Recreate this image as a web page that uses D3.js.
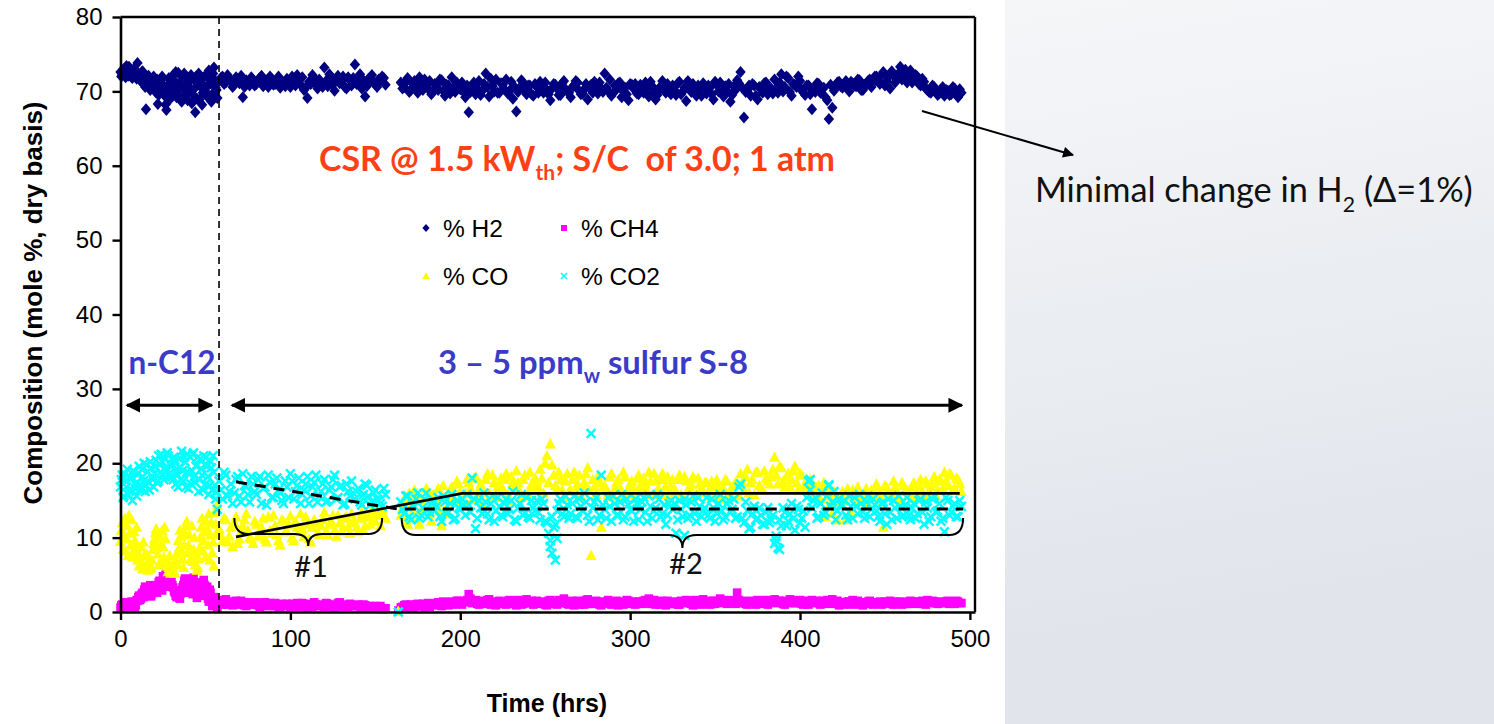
<!DOCTYPE html>
<html><head><meta charset="utf-8">
<script src="https://cdn.jsdelivr.net/npm/d3@7"></script>
<style>
html,body{margin:0;padding:0;background:#fff;}
svg{display:block;}
</style></head><body>
<svg id="c" width="1494" height="724"></svg>
<script>
// ---------------- DATA ----------------
// logged samples, set 1
const hours = [...d3.range(0, 58, 1), ...d3.range(58, 158, 2), 163.5, ...d3.range(165, 497, 2)];
// logged samples, set 2 (interleaved readings)
const hoursB = [...d3.range(0.5, 57.5, 1), ...d3.range(59, 157, 2), ...d3.range(166, 496, 2)];

const h2 = [
72.6,72.2,73.0,71.9,72.8,73.3,72.4,71.8,73.0,72.5,
73.8,72.3,71.6,72.7,71.9,67.6,71.9,71.3,70.4,71.7,
71.0,69.8,68.3,70.6,71.5,70.2,69.4,67.5,70.9,68.9,
71.3,72.2,70.6,69.2,72.5,71.0,68.6,70.4,72.0,69.6,
71.2,70.1,68.4,71.7,67.2,69.0,72.4,70.7,68.2,71.9,
70.0,69.3,72.8,71.1,69.6,73.2,70.5,69.1,
71.4,72.0,71.2,71.7,70.6,71.9,71.1,69.2,71.5,70.8,
71.6,71.0,71.8,70.7,71.3,72.0,70.9,71.4,70.5,71.2,
71.7,70.6,71.3,72.2,70.9,70.2,69.1,71.0,71.8,70.4,
71.2,73.2,70.7,71.6,70.1,72.1,71.4,70.6,71.9,70.8,
73.6,71.2,70.4,69.3,71.7,72.2,71.0,71.6,72.0,70.9,
null,
71.2,70.6,71.8,70.2,71.4,69.8,70.9,71.6,70.4,69.6,
71.0,70.2,71.5,69.4,70.8,71.9,69.9,70.6,71.2,69.2,
67.2,70.8,69.6,71.4,70.1,72.4,69.3,70.7,71.6,69.8,
70.9,71.6,70.1,69.0,67.3,70.5,71.2,69.6,70.8,69.4,
70.6,71.3,69.8,70.2,68.8,71.0,70.4,69.5,71.4,70.0,
69.2,70.8,71.2,69.6,70.3,68.9,70.9,71.3,69.7,70.4,
72.4,70.1,69.4,70.8,71.1,69.2,70.5,68.8,70.9,71.0,
69.6,70.4,71.2,69.3,70.7,68.9,70.2,71.4,69.8,70.1,
70.8,69.5,71.3,70.0,68.7,70.6,71.0,69.4,70.3,71.1,
69.7,70.5,68.9,70.9,71.2,69.3,70.1,68.6,70.7,71.5,
72.6,66.5,70.2,69.4,70.8,68.9,70.3,71.1,69.6,70.4,
71.6,69.8,72.3,70.6,71.8,69.4,70.9,72.0,70.2,69.5,
70.8,67.6,69.9,71.0,70.3,69.2,66.3,67.8,70.6,71.3,
70.5,71.4,70.0,71.1,70.7,71.5,70.2,70.9,71.6,71.2,
72.0,71.0,72.6,71.4,70.4,72.2,71.6,73.3,72.4,71.2,
72.8,71.6,72.0,70.8,71.3,70.2,69.8,70.6,69.5,70.3,
69.4,70.1,69.6,70.4,69.2,69.8
];
const h2B = [
72.0,72.8,72.3,73.4,72.1,72.7,71.9,72.9,72.2,71.7,
72.4,71.5,72.6,71.0,70.6,71.8,72.1,70.2,71.5,72.0,
70.4,71.6,69.5,71.2,72.0,70.6,68.2,70.0,71.8,70.3,
69.8,71.5,72.6,70.2,71.0,69.2,71.9,72.4,70.8,68.8,
70.6,72.2,69.6,70.4,72.0,71.4,68.9,71.2,69.8,70.6,
72.2,70.8,71.6,68.6,72.4,71.5,70.2,
71.8,71.0,72.2,71.4,70.9,71.5,72.1,70.6,71.3,71.9,
70.8,71.5,72.1,71.2,70.6,71.7,71.0,72.0,71.3,70.7,
71.2,72.0,70.8,71.5,71.9,70.5,71.3,72.2,71.0,71.6,
70.6,71.4,72.3,70.9,71.7,71.1,72.0,70.4,71.5,71.8,
71.0,72.3,71.5,70.7,71.9,71.2,70.6,71.4,71.8,
70.4,71.3,69.9,71.0,70.6,71.9,70.2,70.8,71.4,70.0,
70.7,71.6,70.1,70.9,69.7,70.5,71.2,70.3,69.9,70.8,
69.9,71.2,70.4,69.5,71.0,70.6,71.7,70.0,69.8,71.1,
70.3,69.7,71.3,70.6,69.9,71.5,70.2,70.8,69.6,71.0,
69.8,70.7,71.2,69.6,70.4,70.9,69.5,71.1,70.3,69.8,
70.6,71.4,70.1,69.7,71.0,70.5,69.8,70.2,71.2,69.9,
70.5,71.6,69.8,70.3,71.2,70.0,69.6,71.0,70.4,69.7,
70.9,69.8,70.5,71.3,70.0,69.5,70.7,70.2,71.0,69.6,
70.2,71.1,69.6,70.5,71.4,69.9,70.3,70.8,69.4,70.6,
70.8,69.6,71.3,70.0,69.8,70.7,71.0,69.5,70.2,71.1,
70.5,69.9,70.8,71.0,69.4,70.6,69.8,71.2,70.3,69.7,
70.4,71.2,70.0,72.0,69.9,71.0,70.6,71.4,69.8,70.8,
69.6,70.3,71.1,69.8,70.5,68.8,70.9,70.1,71.2,70.7,
71.0,70.4,71.3,70.8,71.6,70.2,70.9,71.4,70.6,72.0,
71.4,72.2,70.8,71.9,72.7,71.2,72.4,71.6,72.9,71.8,
71.2,72.2,71.0,71.7,70.4,69.9,70.8,70.2,69.7,70.6,
70.2,69.5,70.6,69.9,70.3
];

const ch4 = [
0.6,1.0,0.5,0.9,0.7,1.2,0.8,0.6,1.1,0.9,
1.5,2.2,1.8,2.6,3.0,2.4,3.3,2.8,2.1,3.4,
2.7,3.6,3.1,4.2,3.4,4.8,3.9,5.4,4.4,3.7,
4.1,3.3,2.6,2.0,2.4,1.8,2.9,3.6,4.5,3.2,
4.0,2.7,3.5,4.6,2.9,1.9,3.8,2.6,3.1,4.3,
2.2,3.4,1.4,2.6,0.8,2.0,1.2,0.5,
1.4,1.0,1.7,1.2,0.9,1.5,1.1,1.3,0.8,1.2,
1.0,1.3,0.7,1.1,0.9,1.2,0.8,1.0,0.6,0.9,
1.1,0.7,0.9,1.2,0.8,1.0,0.6,0.9,1.3,0.8,
1.0,0.7,1.1,0.9,0.6,1.2,0.8,1.0,0.7,0.9,
0.8,1.0,0.6,0.9,0.7,0.5,0.8,0.6,0.4,0.5,
0.2,
0.6,0.9,0.5,1.0,0.7,1.1,0.8,0.6,1.2,0.9,
1.0,1.3,0.8,1.2,0.9,1.4,1.1,1.5,1.0,1.3,
2.4,1.2,1.6,1.0,1.4,1.1,1.7,1.2,0.9,1.5,
1.3,1.0,1.6,1.2,0.9,1.4,1.1,1.7,1.2,1.0,
1.5,1.1,1.3,0.9,1.6,1.2,1.0,1.4,1.8,1.1,
1.3,0.9,1.5,1.2,1.0,1.7,1.3,1.1,1.4,0.9,
1.2,1.6,1.0,1.3,0.9,1.4,1.1,1.5,1.2,1.0,
1.4,1.1,1.6,1.8,1.2,1.0,1.3,1.5,0.9,1.2,
1.1,1.4,1.0,1.3,1.6,1.2,0.9,1.4,1.1,1.7,
1.3,1.0,1.5,1.2,1.8,1.4,1.1,1.6,1.3,2.6,
1.2,1.5,1.0,1.4,1.2,1.6,1.1,1.3,1.0,1.4,
1.7,1.2,1.5,1.0,1.3,1.6,1.2,1.4,1.1,1.5,
1.0,1.6,1.3,1.2,1.5,1.1,1.4,1.7,1.2,0.9,
1.3,1.0,1.4,1.6,1.1,1.3,0.9,1.2,1.5,1.0,
1.2,1.4,1.1,1.3,1.5,1.0,1.2,1.4,1.3,1.1,
1.5,1.2,1.4,1.1,1.3,1.6,1.2,1.4,1.1,1.3,
1.2,1.5,1.3,1.1,1.4,1.2
];
const ch4B = [
0.9,0.5,1.3,0.7,1.0,0.6,1.4,0.9,0.7,1.6,
2.0,1.6,2.4,2.0,3.4,2.8,2.2,3.6,2.5,3.0,
3.3,2.6,4.0,3.6,2.9,4.4,5.0,4.6,3.4,4.9,
3.6,2.8,2.2,2.9,1.9,2.5,3.3,4.2,3.9,2.6,
3.4,4.4,2.4,3.8,3.2,2.2,3.0,4.0,2.8,3.6,
2.8,1.8,3.0,1.6,1.2,1.6,0.9,
1.2,1.6,1.0,1.4,1.2,1.0,1.5,0.9,1.3,1.0,
1.2,0.9,1.1,1.3,0.8,1.0,1.2,0.7,1.1,1.0,
0.8,1.1,0.9,0.7,1.2,0.9,1.1,0.7,1.0,0.9,
0.8,1.2,0.7,1.0,0.9,1.3,0.7,0.8,1.1,0.8,
0.9,0.7,1.0,0.6,0.8,0.7,0.6,0.8,0.5,
0.7,1.0,0.8,0.6,1.0,0.8,1.1,0.9,0.7,1.0,
1.2,0.9,1.4,1.1,1.3,1.0,1.5,1.2,1.4,1.6,
1.8,1.3,1.1,1.5,1.2,1.6,1.0,1.4,1.3,1.1,
1.2,1.5,1.1,1.3,1.6,1.0,1.4,1.2,1.5,1.3,
1.2,1.4,1.0,1.5,1.3,1.1,1.6,1.2,1.4,1.0,
1.5,1.2,1.0,1.4,1.6,1.1,1.2,1.5,1.0,1.3,
1.4,1.1,1.3,1.5,1.2,1.0,1.6,1.3,1.1,1.4,
1.2,1.5,1.3,1.1,1.6,1.4,1.0,1.2,1.5,1.1,
1.3,1.0,1.5,1.2,1.4,1.1,1.6,1.2,1.0,1.4,
1.2,1.5,1.1,1.4,1.6,1.2,1.3,1.5,1.1,1.6,
1.4,1.1,1.3,1.5,1.0,1.4,1.2,1.6,1.2,1.5,
1.3,1.5,1.1,1.4,1.7,1.2,1.3,1.6,1.0,1.3,
1.4,1.2,1.5,1.0,1.3,1.6,1.2,1.1,1.5,1.2,
1.1,1.4,1.2,1.0,1.5,1.3,1.1,1.4,1.2,1.3,
1.3,1.0,1.4,1.2,1.1,1.4,1.3,1.0,1.2,1.4,
1.1,1.4,1.2,1.5,1.0,1.3,1.5,1.2,1.4,1.2,
1.4,1.1,1.3,1.5,1.2
];

const co = [
9.5,12.0,10.4,8.2,11.6,13.0,9.0,7.4,10.8,8.6,
7.0,6.2,8.8,5.8,7.6,6.4,5.6,7.2,6.0,8.4,
9.8,11.2,7.8,10.2,6.8,8.8,11.4,6.2,5.4,7.6,
5.6,6.6,5.2,7.8,9.6,11.0,8.2,6.0,10.6,12.2,
9.0,7.0,11.6,8.4,6.4,5.6,7.2,10.0,12.6,9.6,
7.4,11.2,13.2,10.4,8.0,6.2,11.8,14.4,
11.2,9.6,12.4,10.2,8.8,12.8,9.8,11.6,13.2,10.0,
9.2,11.8,10.6,12.6,9.4,11.0,13.0,10.4,9.0,12.2,
10.8,12.9,9.6,11.4,13.2,10.2,11.8,9.4,12.4,10.6,
11.6,13.4,10.4,12.2,11.0,13.0,10.8,12.6,11.4,13.2,
12.0,10.8,13.4,11.6,12.8,13.6,12.2,13.0,13.8,12.6,
0.1,
13.0,15.2,11.8,14.6,16.4,12.6,15.0,13.8,16.2,12.2,
14.4,16.6,11.6,15.4,13.2,16.8,14.8,17.2,15.6,16.0,
17.4,15.2,18.2,16.4,14.6,17.8,16.0,18.4,15.4,17.0,
16.6,18.6,15.0,17.4,19.0,16.2,17.8,15.6,18.8,16.8,
17.6,19.2,16.0,21.0,22.6,18.4,16.6,17.8,15.4,18.6,
16.4,18.8,17.2,15.6,17.4,19.4,7.6,16.8,18.2,11.4,
17.0,15.8,18.6,16.6,17.8,15.4,18.2,16.2,17.6,15.8,
18.4,16.6,17.2,18.8,15.8,17.6,16.4,18.6,17.0,15.6,
17.8,16.2,18.4,15.4,17.6,16.8,18.2,15.8,17.2,16.0,
17.4,15.6,16.8,17.8,15.2,16.6,17.6,15.8,16.4,17.2,
18.6,16.4,19.2,17.4,15.8,18.8,16.6,19.0,17.6,18.2,
20.8,17.2,19.4,16.8,18.6,17.8,19.6,16.4,18.4,17.0,
16.6,17.4,15.8,17.0,16.2,12.8,15.6,13.2,16.0,15.0,
16.2,12.4,15.6,16.4,14.8,16.0,15.2,16.6,15.4,16.2,
17.2,15.6,11.4,16.8,15.4,17.6,16.2,15.0,17.0,16.4,
15.8,17.4,16.2,17.8,15.6,17.2,16.8,18.2,16.4,17.6,
18.8,17.0,18.4,16.6,17.8,16.2
];
const coB = [
11.0,8.4,12.6,9.8,7.6,10.6,12.4,8.2,9.6,11.4,
8.0,7.2,6.6,9.4,6.2,7.8,6.8,5.8,7.0,9.2,
10.6,8.6,6.4,9.0,11.0,7.4,9.8,7.0,6.0,5.2,
6.2,5.4,7.0,6.4,8.6,10.2,7.2,9.0,11.6,8.0,
10.4,8.2,6.8,10.0,7.6,6.0,8.6,11.4,8.2,10.8,
12.2,9.0,7.0,12.0,9.4,13.4,10.6,
10.4,12.6,9.4,11.4,12.0,9.2,10.8,12.4,11.0,9.8,
12.2,10.2,11.4,9.8,12.8,10.6,11.6,9.6,12.4,10.8,
11.8,10.0,12.2,10.8,11.2,12.8,9.8,11.4,12.0,10.4,
12.4,10.8,11.8,13.0,10.2,12.0,11.4,12.8,10.6,12.2,
11.4,12.6,11.0,13.0,11.8,12.4,13.4,11.6,13.0,
14.0,12.4,16.0,13.6,15.4,11.8,14.2,16.6,13.2,15.8,
15.0,13.6,17.0,14.2,16.4,15.4,17.6,16.2,14.6,17.8,
16.6,18.0,15.8,17.2,16.2,18.6,15.6,17.4,16.8,18.0,
17.8,15.8,18.2,16.6,17.4,15.4,18.4,16.0,17.2,18.0,
16.8,18.0,20.0,17.4,19.8,17.0,18.8,16.4,17.6,16.2,
17.8,16.2,18.4,17.0,18.6,16.4,17.8,15.8,17.4,16.8,
16.4,18.2,15.6,17.4,16.8,18.8,16.0,17.2,16.6,18.0,
17.0,18.0,16.2,17.6,18.6,16.4,17.8,15.8,18.2,16.8,
16.6,17.8,15.8,18.2,16.4,17.2,15.6,18.0,16.6,17.4,
16.2,17.6,15.4,17.0,16.6,17.8,15.8,16.8,17.4,15.6,
17.4,18.2,16.0,17.8,18.8,17.0,16.4,18.0,17.2,19.2,
18.4,19.6,17.6,18.2,16.8,19.0,17.4,18.6,16.6,17.8,
17.8,15.6,16.8,15.2,17.4,16.4,14.6,16.2,12.4,15.6,
15.0,16.6,13.4,15.8,16.8,15.2,16.0,14.6,16.4,15.6,
16.6,14.8,17.0,16.0,15.6,16.8,15.4,17.4,16.2,15.8,
16.8,15.4,17.0,16.2,17.6,16.0,17.2,15.6,17.8,16.6,
17.6,18.6,16.4,18.0,17.2
];

const co2 = [
16.8,18.4,15.6,17.6,19.2,16.2,17.9,15.0,18.8,16.6,
17.4,19.6,16.8,18.2,20.0,17.0,18.9,16.4,19.4,17.8,
18.6,20.4,17.6,19.8,21.2,18.4,20.6,19.0,21.0,18.2,
19.6,17.8,20.4,18.6,16.8,19.4,21.6,17.6,20.2,18.8,
16.6,20.8,19.0,21.4,17.4,19.8,16.2,20.6,18.4,21.0,
17.2,19.6,15.8,20.2,16.4,18.8,15.2,13.8,
17.6,15.2,18.4,16.2,14.6,17.8,15.6,18.6,16.8,14.8,
17.2,15.8,18.2,16.6,14.4,17.4,15.4,18.0,16.0,14.6,
16.8,18.6,15.2,17.0,14.6,16.4,18.2,15.6,17.4,14.8,
16.2,17.8,15.0,16.8,18.4,15.4,17.0,14.6,16.2,17.6,
15.2,16.6,14.4,17.2,15.6,14.8,16.4,15.0,14.2,15.8,
0.0,
14.8,13.2,15.6,12.4,14.2,16.0,13.0,15.2,12.8,14.6,
13.6,15.4,12.2,14.8,13.4,15.8,12.6,14.0,15.2,13.0,
14.4,18.0,11.2,15.0,13.2,14.8,12.4,15.6,13.6,14.2,
12.8,15.2,13.8,16.2,12.2,14.6,13.0,15.4,12.6,14.0,
15.0,12.4,14.6,12.0,9.6,11.4,13.6,15.2,12.8,14.4,
13.2,15.6,12.6,14.2,16.0,13.0,24.0,14.8,12.4,18.4,
13.8,15.4,12.2,14.6,13.0,15.8,12.8,14.4,13.6,15.2,
12.4,14.8,13.4,15.6,12.6,14.0,15.2,13.2,11.8,14.6,
13.8,10.6,15.0,12.8,14.4,13.0,15.6,12.2,14.2,13.6,
15.4,12.6,14.0,13.2,15.8,12.4,14.6,13.4,15.2,12.8,
17.2,12.0,13.6,11.4,14.2,12.6,13.0,11.8,14.0,12.4,
9.2,8.6,11.6,13.4,12.2,14.6,11.0,13.8,12.6,11.4,
17.6,14.0,15.4,12.8,16.0,13.4,17.0,14.8,12.4,15.2,
14.4,13.0,15.6,12.6,14.2,15.8,13.4,14.8,12.8,15.2,
13.6,12.2,14.8,11.8,13.4,15.0,12.6,14.2,13.0,15.4,
12.4,14.6,13.2,15.2,11.8,14.0,12.8,15.6,13.6,12.2,
10.8,15.0,13.4,14.6,12.8,14.2
];
const co2B = [
17.8,15.4,18.6,16.8,15.8,18.2,16.4,19.0,17.2,15.6,
18.6,16.4,19.2,17.6,16.2,19.8,17.4,20.2,18.2,16.8,
19.6,17.4,21.0,18.8,20.2,17.8,19.4,21.4,18.6,20.0,
18.2,20.8,17.2,19.2,20.6,17.8,19.0,20.8,16.8,21.2,
18.6,17.2,21.2,18.2,19.6,20.8,17.8,19.2,16.4,19.8,
20.8,18.2,17.0,19.4,21.0,17.0,16.2,
16.4,18.8,15.6,17.2,16.0,18.2,14.8,17.0,15.8,18.2,
16.2,17.8,14.6,16.8,18.4,15.4,17.2,16.4,15.0,17.6,
15.4,17.6,16.2,18.0,15.8,17.2,14.6,16.8,18.4,15.6,
17.2,14.8,16.4,17.8,15.2,16.8,14.4,17.2,15.6,16.0,
16.2,14.8,15.8,17.0,14.4,16.0,15.2,14.6,16.6,
13.8,15.6,12.8,14.4,15.2,12.6,14.0,16.0,13.4,15.0,
14.2,12.8,15.6,13.2,14.6,12.4,15.0,13.8,14.4,15.8,
13.4,15.2,12.6,14.0,16.0,13.2,14.6,12.2,15.4,13.0,
14.6,13.2,15.0,12.4,14.0,15.8,13.4,12.8,15.0,13.6,
13.4,15.2,12.2,10.6,12.8,11.8,14.6,13.2,15.6,12.6,
14.6,12.8,15.2,13.6,14.8,12.2,14.0,15.4,13.0,14.4,
12.6,14.2,15.6,13.0,14.8,12.4,15.2,13.8,12.2,14.6,
13.8,15.4,12.2,14.2,13.6,15.8,12.8,14.4,13.0,15.0,
14.6,12.4,13.8,15.2,12.6,14.8,13.2,15.4,12.8,14.0,
13.0,15.2,12.2,14.6,13.6,12.8,15.0,13.8,12.6,16.8,
12.6,14.8,11.2,13.2,12.4,14.0,11.8,13.4,12.0,13.0,
10.2,12.4,14.0,11.6,13.2,12.6,14.2,12.0,13.6,15.4,
16.4,15.0,12.6,14.6,13.0,15.6,14.2,16.2,13.6,14.4,
15.0,12.4,14.2,15.4,13.2,14.6,12.6,15.6,13.8,14.4,
12.8,14.6,13.2,15.2,12.4,14.0,15.6,12.8,14.4,13.0,
14.0,12.6,15.0,13.4,14.8,12.2,15.2,13.4,14.6,12.6,
15.4,13.0,14.2,12.8,15.0
];

// scattered CO2 outliers read separately
const co2ExtraHours = [253, 254, 256, 257, 332, 386, 388, 406, 417];
const co2ExtraVals  = [8.8, 7.9, 7.0, 9.9, 10.3, 9.6, 8.4, 17.8, 17.1];

const xTicks = [0, 100, 200, 300, 400, 500];
const yTicks = [0, 10, 20, 30, 40, 50, 60, 70, 80];

// trend guide lines (hrs, %)
const trendSolid  = [[68, 10.1], [201, 15.95], [494, 15.95]];
const trendDashed = [[68, 17.5], [163, 13.85], [496, 13.85]];

// ---------------- CHART ----------------
const svg = d3.select("#c");
const W = 1494, H = 724;
const defs = svg.append("defs");
const grad = defs.append("linearGradient").attr("id", "bg")
  .attr("x1", "0").attr("y1", "0").attr("x2", "0.35").attr("y2", "1");
grad.append("stop").attr("offset", "0").attr("stop-color", "#fbfbfc");
grad.append("stop").attr("offset", "1").attr("stop-color", "#e1e5eb");
svg.append("rect").attr("width", W).attr("height", H).attr("fill", "url(#bg)");
svg.append("rect").attr("x", 0).attr("y", 0).attr("width", 1005).attr("height", H).attr("fill", "#fff");

const x = d3.scaleLinear().domain([0, 503]).range([120.5, 975]);
const y = d3.scaleLinear().domain([0, 80]).range([612, 17]);

const AX = "Liberation Sans, Arial, sans-serif";
const GILL = "Lato, 'Open Sans', sans-serif";

const plot = svg.append("g");
function pair(tArr, vArr) {
  const out = [];
  const n = Math.min(tArr.length, vArr.length);
  for (let i = 0; i < n; i++) if (vArr[i] != null) out.push([tArr[i], vArr[i]]);
  return out;
}
// interleave the two sample sets in time order
const series = (a, b) => pair(hours, a).concat(pair(hoursB, b)).sort((p, q) => p[0] - q[0]);

const diamond = "M0,-6L5.2,0L0,6L-5.2,0Z";
const tri = "M0,-5.8L5.5,4.5L-5.5,4.5Z";
const xs = "M-4.4,-4.4L4.4,4.4M-4.4,4.4L4.4,-4.4";

plot.selectAll(".h2").data(series(h2, h2B)).join("path").attr("class", "h2")
  .attr("d", diamond).attr("fill", "#000080")
  .attr("transform", d => `translate(${x(d[0])},${y(d[1])})`);
plot.selectAll(".ch4").data(series(ch4, ch4B)).join("rect").attr("class", "ch4")
  .attr("x", d => x(d[0]) - 4.3).attr("y", d => y(d[1]) - 4.3)
  .attr("width", 8.6).attr("height", 8.6).attr("fill", "#ff00ff");
plot.selectAll(".co").data(series(co, coB)).join("path").attr("class", "co")
  .attr("d", tri).attr("fill", "#ffff00")
  .attr("transform", d => `translate(${x(d[0])},${y(d[1])})`);
const co2pts = series(co2, co2B).concat(co2ExtraHours.map((t, i) => [t, co2ExtraVals[i]]));
plot.selectAll(".co2").data(co2pts).join("path").attr("class", "co2")
  .attr("d", xs).attr("stroke", "#00ffff").attr("stroke-width", 2.5).attr("fill", "none")
  .attr("transform", d => `translate(${x(d[0])},${y(d[1])})`);

// axes
const gx = svg.append("g").attr("transform", `translate(0,${y(0)})`)
  .call(d3.axisBottom(x).tickValues(xTicks).tickSize(8).tickSizeOuter(0).tickPadding(10));
const gy = svg.append("g").attr("transform", `translate(${x(0)},0)`)
  .call(d3.axisLeft(y).tickValues(yTicks).tickSize(8).tickSizeOuter(0).tickPadding(10));
[gx, gy].forEach(g => {
  g.select(".domain").attr("stroke", "#000").attr("stroke-width", 2.6);
  g.selectAll(".tick line").attr("stroke", "#000").attr("stroke-width", 2.4);
  g.selectAll(".tick text").attr("font-family", AX).attr("font-size", 24).attr("fill", "#000");
});
svg.append("line").attr("x1", x(503)).attr("x2", x(503)).attr("y1", y(80)).attr("y2", y(0))
  .attr("stroke", "#000").attr("stroke-width", 2.4);
svg.append("line").attr("x1", x(0)).attr("x2", x(503)).attr("y1", y(80)).attr("y2", y(80))
  .attr("stroke", "#000").attr("stroke-width", 2.4);

// vertical dashed separator
svg.append("line").attr("x1", x(58)).attr("x2", x(58)).attr("y1", y(80)).attr("y2", y(0))
  .attr("stroke", "#000").attr("stroke-width", 1.6).attr("stroke-dasharray", "7,5");

// trend lines
const ln = d3.line().x(d => x(d[0])).y(d => y(d[1]));
svg.append("path").attr("d", ln(trendSolid)).attr("fill", "none").attr("stroke", "#000").attr("stroke-width", 2.6);
svg.append("path").attr("d", ln(trendDashed)).attr("fill", "none").attr("stroke", "#000")
  .attr("stroke-width", 3).attr("stroke-dasharray", "11,8");

// braces
function brace(x0, x1, y0, ym, yt) {
  const xc = (x0 + x1) / 2, r = 14;
  return `M${x0},${y0} Q${x0},${ym} ${x0 + r},${ym} L${xc - r},${ym} Q${xc},${ym} ${xc},${yt} ` +
         `Q${xc},${ym} ${xc + r},${ym} L${x1 - r},${ym} Q${x1},${ym} ${x1},${y0}`;
}
svg.append("path").attr("d", brace(x(67), x(154), 518, 534, 546)).attr("fill", "none").attr("stroke", "#000").attr("stroke-width", 2);
svg.append("path").attr("d", brace(x(165.5), x(496), 518, 535, 548)).attr("fill", "none").attr("stroke", "#000").attr("stroke-width", 2);

function fit(sel, w) {
  const fs = parseFloat(sel.attr("font-size"));
  const cur = sel.node().getComputedTextLength();
  sel.attr("font-size", fs * w / cur);
  return sel;
}

svg.append("text").attr("x", 311).attr("y", 577).attr("text-anchor", "middle")
  .attr("font-family", GILL).attr("font-size", 29).attr("fill", "#111").text("#1");
svg.append("text").attr("x", 686).attr("y", 574).attr("text-anchor", "middle")
  .attr("font-family", GILL).attr("font-size", 29).attr("fill", "#111").text("#2");

// double-headed arrows
defs.append("marker").attr("id", "ah").attr("viewBox", "0 0 10 10").attr("refX", 9).attr("refY", 5)
  .attr("markerWidth", 5).attr("markerHeight", 5).attr("orient", "auto-start-reverse").attr("markerUnits", "strokeWidth")
  .append("path").attr("d", "M0,0L10,5L0,10Z").attr("fill", "#000");
[[3.8, 53.8], [65.6, 495.3]].forEach(([a, b]) => {
  svg.append("line").attr("x1", x(a)).attr("x2", x(b)).attr("y1", y(27.8)).attr("y2", y(27.8))
    .attr("stroke", "#000").attr("stroke-width", 3)
    .attr("marker-start", "url(#ah)").attr("marker-end", "url(#ah)");
});

// blue labels
const nc = svg.append("text").attr("x", 172).attr("y", 374).attr("text-anchor", "middle")
  .attr("font-family", GILL).attr("font-weight", 700).attr("font-size", 26).attr("fill", "#3b3bc9").text("n-C12");
fit(nc, 87);
const sf = svg.append("text").attr("x", 593).attr("y", 374).attr("text-anchor", "middle")
  .attr("font-family", GILL).attr("font-weight", 700).attr("font-size", 26).attr("fill", "#3b3bc9");
sf.append("tspan").text("3 – 5 ppm");
sf.append("tspan").attr("font-size", "0.62em").attr("dy", "0.45em").text("w");
sf.append("tspan").attr("dy", "-0.28em").text(" sulfur S-8");
fit(sf, 310);

// title
const tt = svg.append("text").attr("x", 577).attr("y", 171).attr("text-anchor", "middle")
  .attr("font-family", GILL).attr("font-weight", 700).attr("font-size", 30).attr("fill", "#ff4014");
tt.append("tspan").text("CSR @ 1.5 kW");
tt.append("tspan").attr("font-size", "0.62em").attr("dy", "0.45em").text("th");
tt.append("tspan").attr("dy", "-0.28em").text("; S/C\u00a0 of 3.0; 1 atm");
fit(tt, 516);

// legend
const legend = [
  {k: "h2", label: "% H2", lx: 426, ly: 228},
  {k: "ch4", label: "% CH4", lx: 564, ly: 228},
  {k: "co", label: "% CO", lx: 426, ly: 276},
  {k: "co2", label: "% CO2", lx: 564, ly: 276}
];
legend.forEach(l => {
  const g = svg.append("g").attr("transform", `translate(${l.lx},${l.ly})`);
  if (l.k === "h2") g.append("path").attr("d", "M0,-4L3.6,0L0,4L-3.6,0Z").attr("fill", "#000080");
  if (l.k === "ch4") g.append("rect").attr("x", -3).attr("y", -3).attr("width", 6).attr("height", 6).attr("fill", "#ff00ff");
  if (l.k === "co") g.append("path").attr("d", "M0,-3.8L3.8,3L-3.8,3Z").attr("fill", "#ffff00");
  if (l.k === "co2") g.append("path").attr("d", "M-3,-3L3,3M-3,3L3,-3").attr("stroke", "#00ffff").attr("stroke-width", 1.6);
  g.append("text").attr("x", 17).attr("y", 8.5).attr("font-family", AX).attr("font-size", 24.5)
    .attr("fill", "#000").text(l.label);
});

// axis titles
svg.append("text").attr("x", 547).attr("y", 712).attr("text-anchor", "middle")
  .attr("font-family", AX).attr("font-weight", 700).attr("font-size", 25).text("Time (hrs)");
svg.append("text").attr("transform", "translate(42,303) rotate(-90)").attr("text-anchor", "middle")
  .attr("font-family", AX).attr("font-weight", 700).attr("font-size", 26).text("Composition (mole %, dry basis)");

// annotation
defs.append("marker").attr("id", "ah2").attr("viewBox", "0 0 10 10").attr("refX", 9).attr("refY", 5)
  .attr("markerWidth", 7).attr("markerHeight", 5.5).attr("orient", "auto").attr("markerUnits", "strokeWidth")
  .append("path").attr("d", "M0,0L10,5L0,10Z").attr("fill", "#000");
svg.append("line").attr("x1", 922).attr("y1", 111).attr("x2", 1073).attr("y2", 155)
  .attr("stroke", "#000").attr("stroke-width", 2).attr("marker-end", "url(#ah2)");
const mc = svg.append("text").attr("x", 1035).attr("y", 202)
  .attr("font-family", GILL).attr("font-size", 30).attr("fill", "#111");
mc.append("tspan").text("Minimal change in H");
mc.append("tspan").attr("font-size", "0.62em").attr("dy", "0.45em").text("2");
mc.append("tspan").attr("dy", "-0.28em").text(" (Δ=1%)");
fit(mc, 438);
</script>
</body></html>
